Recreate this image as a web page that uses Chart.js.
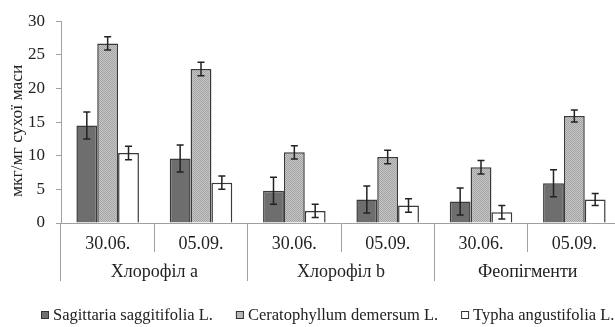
<!DOCTYPE html>
<html>
  <head>
    <title>Pigments</title>
    <script src="https://cdn.jsdelivr.net/npm/chart.js"></script>
    <style>
      body { margin: 0; background: #fff; }
      .wrap { width: 615px; height: 327px; overflow: hidden; }
    </style>
  </head>
  <body>
    <div class="wrap">
      <canvas id="chart" width="622" height="327"></canvas>
    </div>
    <script>
      // dates (inner level) and pigment groups (outer level)
      var dates = ['30.06.', '05.09.', '30.06.', '05.09.', '30.06.', '05.09.'];
      var groups = ['Хлорофіл a', 'Хлорофіл b', 'Феопігменти'];

      var sagittaria = [14.5, 9.6, 4.8, 3.5, 3.2, 5.9];
      var sagittariaErr = [2, 2, 2, 2, 2, 2];
      var ceratophyllum = [26.7, 22.9, 10.5, 9.8, 8.3, 15.9];
      var ceratophyllumErr = [1, 1, 1, 1, 1, 0.9];
      var typha = [10.4, 6.0, 1.8, 2.6, 1.6, 3.5];
      var typhaErr = [1, 1, 1, 1, 1, 0.9];

      var yTicks = [0, 5, 10, 15, 20, 25, 30];

      var serif = '"Liberation Serif", "Times New Roman", serif';
      var lineColor = '#a0a0a0';
      var textColor = '#222';

      // dotted light grey fill for Ceratophyllum
      var pat = document.createElement('canvas');
      pat.width = 2;
      pat.height = 2;
      var pctx = pat.getContext('2d');
      pctx.fillStyle = '#c6c6c6';
      pctx.fillRect(0, 0, 2, 2);
      pctx.fillStyle = '#a4a4a4';
      pctx.fillRect(0, 0, 1, 1);
      pctx.fillRect(1, 1, 1, 1);
      var ctx = document.getElementById('chart').getContext('2d');
      var dotted = ctx.createPattern(pat, 'repeat');

      var errorBars = {
        id: 'errorBars',
        afterDatasetsDraw: function (chart) {
          var c = chart.ctx;
          var y = chart.scales.y;
          c.save();
          c.strokeStyle = '#222';
          c.lineWidth = 1.5;
          chart.data.datasets.forEach(function (ds, i) {
            var meta = chart.getDatasetMeta(i);
            meta.data.forEach(function (bar, j) {
              var v = ds.data[j];
              var e = ds.errors[j];
              var top = y.getPixelForValue(v + e);
              var bot = y.getPixelForValue(v - e);
              c.beginPath();
              c.moveTo(bar.x, top);
              c.lineTo(bar.x, bot);
              c.moveTo(bar.x - 3.5, top);
              c.lineTo(bar.x + 3.5, top);
              c.moveTo(bar.x - 3.5, bot);
              c.lineTo(bar.x + 3.5, bot);
              c.stroke();
            });
          });
          c.restore();
        },
      };

      var bottomLegend = {
        id: 'bottomLegend',
        afterDraw: function (chart) {
          var c = chart.ctx;
          c.save();
          c.font = '16.5px ' + serif;
          c.textBaseline = 'alphabetic';
          var x = 41;
          var y = 320;
          chart.data.datasets.forEach(function (ds) {
            c.fillStyle = ds.legendColor;
            c.strokeStyle = '#333';
            c.lineWidth = 1;
            c.fillRect(x, y - 9, 8, 8);
            c.strokeRect(x + 0.5, y - 8.5, 7, 7);
            c.fillStyle = textColor;
            c.fillText(ds.label, x + 12, y);
            x += 12 + c.measureText(ds.label).width + 23;
          });
          c.restore();
        },
      };

      var chart = new Chart(ctx, {
        type: 'bar',
        data: {
          labels: dates,
          datasets: [
            {
              label: 'Sagittaria saggitifolia L.',
              data: sagittaria,
              errors: sagittariaErr,
              backgroundColor: '#6e6e6e',
              legendColor: '#6e6e6e',
              borderColor: '#3a3a3a',
              borderWidth: 1.5,
            },
            {
              label: 'Ceratophyllum demersum L.',
              data: ceratophyllum,
              errors: ceratophyllumErr,
              backgroundColor: dotted,
              legendColor: '#b8b8b8',
              borderColor: '#3a3a3a',
              borderWidth: 1.5,
            },
            {
              label: 'Typha angustifolia L.',
              data: typha,
              errors: typhaErr,
              backgroundColor: '#ffffff',
              legendColor: '#ffffff',
              borderColor: '#3a3a3a',
              borderWidth: 1.5,
            },
          ],
        },
        options: {
          responsive: false,
          animation: false,
          layout: { padding: { top: 17, right: 1, bottom: 46, left: 0 } },
          datasets: { bar: { categoryPercentage: 0.67, barPercentage: 1 } },
          plugins: {
            legend: { display: false },
            tooltip: { enabled: false },
          },
          scales: {
            x: {
              position: 'bottom',
              grid: { offset: true, drawOnChartArea: false, tickLength: 29, color: lineColor, lineWidth: 1 },
              border: { color: lineColor },
              ticks: { padding: -19, color: textColor, font: { family: serif, size: 18 } },
              afterFit: function (s) { s.height = 29; },
            },
            x2: {
              type: 'category',
              labels: groups,
              position: 'bottom',
              grid: { offset: true, drawOnChartArea: false, tickLength: 29, color: lineColor, lineWidth: 1 },
              border: { display: false },
              ticks: { padding: -20, color: textColor, font: { family: serif, size: 18 } },
              afterFit: function (s) { s.height = 29; },
            },
            y: {
              min: 0,
              max: 30,
              afterBuildTicks: function (s) {
                s.ticks = yTicks.map(function (v) { return { value: v }; });
              },
              grid: { drawOnChartArea: false, tickLength: 5, color: lineColor },
              border: { color: lineColor },
              ticks: { padding: 11, color: textColor, font: { family: serif, size: 17 } },
              title: {
                display: true,
                text: 'мкг/мг сухої маси    ',
                color: textColor,
                font: { family: serif, size: 17.5 },
                padding: { top: 7, bottom: 0 },
              },
              afterFit: function (s) { s.width = 61; },
            },
          },
        },
        plugins: [errorBars, bottomLegend],
      });
    </script>
  </body>
</html>
